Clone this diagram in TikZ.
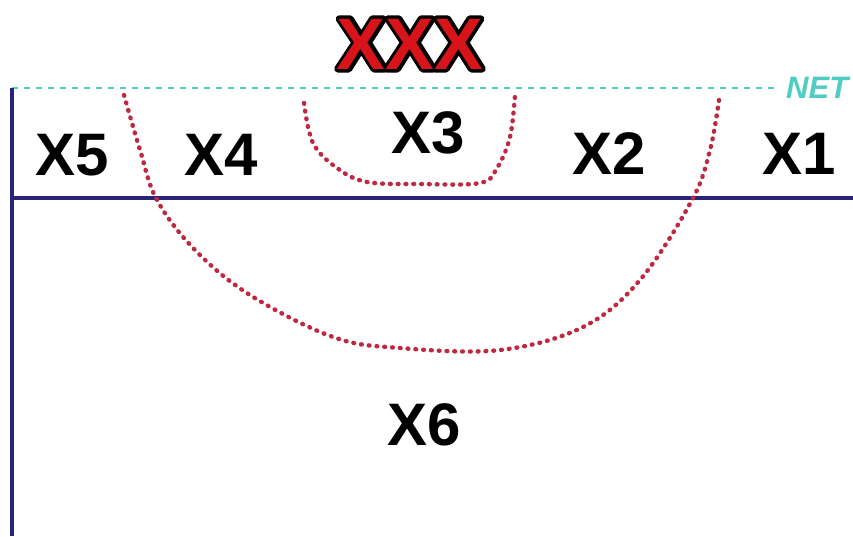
\documentclass[tikz,border=0pt]{standalone}
\usepackage{fontspec}
\setmainfont{Liberation Sans}
\definecolor{navyline}{RGB}{40,36,120}
\definecolor{netcol}{RGB}{80,205,195}
\definecolor{dotred}{RGB}{190,40,65}
\definecolor{xxxred}{RGB}{215,20,25}
\newcommand\outlinedtext[1]{\special{pdf:literal direct 2 Tr 7 w 1 j 0 0 0 RG 0 0 0 rg}#1\special{pdf:literal direct 0 Tr}}
\begin{document}
\begin{tikzpicture}[x=1pt,y=-1pt,
  lbl/.style={font=\fontsize{60}{60}\selectfont\bfseries, anchor=base, inner sep=0pt, text=black},
  courtline/.style={draw=navyline, line width=3.2pt},
  netline/.style={draw=netcol, line width=2.8pt, dash pattern=on 6pt off 6pt},
  zone/.style={draw=dotred, line width=4.4pt, line cap=round, dash pattern=on 0.8pt off 7pt},
  titlefont/.style={anchor=base, inner sep=0pt, font=\fontsize{73}{73}\selectfont\bfseries}]
\useasboundingbox (0,0) rectangle (853,536);
\fill[white] (0,0) rectangle (853,536);
% coordinates
\coordinate (netL) at (12,88);
\coordinate (netR) at (778,88);
\coordinate (bot) at (12,536);
\coordinate (hL) at (12,198);
\coordinate (hR) at (853,198);
% court lines
\draw[netline] (netL) -- (netR);
\draw[courtline] (netL) -- (bot);
\draw[courtline] (hL) -- (hR);
% NET label
\node[anchor=base west, inner sep=0pt, text=netcol, font=\fontsize{31}{31}\selectfont\bfseries\itshape] (net) at (786,98) {NET};
% dotted zones
\draw[zone] plot[smooth, tension=0.6] coordinates {(124,95) (140,150) (157,200) (195,250) (250,295) (333,337) (400,348) (500,350) (583,327) (640,280) (692,200) (710,150) (719,100)};
\draw[zone] plot[smooth, tension=0.6] coordinates {(304,103) (313,143) (337,168) (367,182) (420,184) (480,183) (497,168) (510,137) (515,95)};
% XXX title with outline
\node[titlefont, text=black] (titlebg) at (410,69) {\outlinedtext{XXX}};
\node[titlefont, text=xxxred] (title) at (410,69) {XXX};
% labels
\node[lbl] (x5) at (72,175) {X5};
\node[lbl] (x4) at (221,175) {X4};
\node[lbl] (x3) at (428,153) {X3};
\node[lbl] (x2) at (609,174) {X2};
\node[lbl] (x1) at (799,174) {X1};
\node[lbl] (x6) at (424,445) {X6};
\end{tikzpicture}
\end{document}
